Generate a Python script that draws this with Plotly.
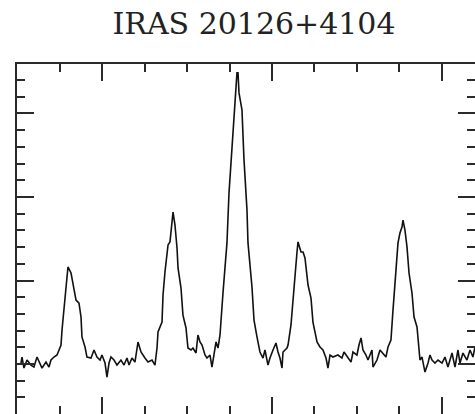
import plotly.graph_objects as go

# NH3 spectrum of IRAS 20126+4104 (velocity in km/s, brightness in K)
velocity = [
    -29.60, -29.48, -29.25, -28.89, -28.42, -28.07, -27.71, -27.36, -27.12, -26.65,
    -26.30, -26.06, -25.71, -25.35, -25.12, -24.88, -24.76, -24.53, -24.29, -24.06,
    -23.70, -23.47, -23.11, -22.76, -22.52, -22.41, -22.05, -21.82, -21.34, -20.99,
    -20.64, -20.28, -20.05, -19.69, -19.46, -19.22, -18.99, -18.63, -18.28, -17.81,
    -17.45, -17.10, -16.86, -16.51, -16.16, -15.80, -15.45, -14.98, -14.62, -14.15,
    -13.80, -13.56, -13.44, -12.97, -12.85, -12.62, -12.26, -12.03, -11.79, -11.67,
    -11.44, -11.20, -11.08, -10.73, -10.50, -10.14, -9.91, -9.55, -9.32, -8.96,
    -8.73, -8.49, -8.25, -7.90, -7.67, -7.31, -7.08, -6.84, -6.60, -6.37,
    -6.13, -5.78, -5.54, -5.31, -5.07, -4.83, -4.60, -4.25, -4.13, -4.01,
    -3.89, -3.54, -3.30, -2.95, -2.83, -2.36, -2.12, -1.77, -1.42, -1.06,
    -0.83, -0.47, -0.24, 0.12, 0.47, 0.71, 0.94, 1.18, 1.30, 1.77,
    1.89, 2.24, 2.48, 2.71, 2.95, 3.07, 3.42, 3.66, 3.89, 4.25,
    4.60, 4.83, 5.31, 5.66, 6.01, 6.37, 6.60, 6.84, 7.19, 7.78,
    8.25, 8.49, 8.96, 9.32, 9.55, 10.02, 10.26, 10.50, 10.73, 11.08,
    11.32, 11.79, 11.91, 12.38, 12.74, 13.09, 13.44, 13.68, 14.03, 14.27,
    14.50, 14.74, 14.86, 15.09, 15.33, 15.45, 15.68, 15.92, 16.16, 16.51,
    16.75, 17.10, 17.22, 17.45, 17.69, 18.04, 18.40, 18.63, 18.87, 19.22,
    19.58, 20.05, 20.40, 20.75, 20.99, 21.23, 21.58, 21.93, 22.17, 22.52,
    22.99, 23.35, 23.70, 23.94,
]
brightness = [
    0.006, 0.042, -0.024, 0.024, -0.006, -0.018, 0.042, 0.006, -0.024, 0.012,
    -0.018, 0.024, 0.042, 0.054, 0.084, 0.114, 0.204, 0.323, 0.485, 0.581,
    0.545, 0.485, 0.383, 0.365, 0.281, 0.162, 0.102, 0.042, 0.036, 0.084,
    0.042, 0.024, 0.054, 0.006, -0.078, 0.006, 0.042, 0.024, -0.006, 0.024,
    -0.006, 0.036, -0.006, 0.036, 0.012, 0.132, 0.072, 0.036, 0.012, 0.024,
    -0.006, 0.096, 0.192, 0.251, 0.413, 0.551, 0.713, 0.731, 0.832, 0.910,
    0.832, 0.695, 0.575, 0.455, 0.293, 0.216, 0.096, 0.084, 0.096, 0.066,
    0.174, 0.132, 0.114, 0.054, 0.036, 0.054, -0.018, 0.072, 0.132, 0.096,
    0.174, 0.425, 0.611, 0.725, 1.024, 1.222, 1.419, 1.641, 1.743, 1.743,
    1.623, 1.521, 1.222, 0.922, 0.725, 0.461, 0.263, 0.162, 0.072, 0.036,
    0.084, -0.006, 0.036, 0.084, 0.126, 0.072, 0.036, -0.024, 0.072, 0.096,
    0.114, 0.234, 0.395, 0.533, 0.671, 0.731, 0.671, 0.671, 0.635, 0.473,
    0.395, 0.251, 0.132, 0.102, 0.084, 0.036, -0.024, 0.054, 0.042, 0.054,
    0.036, 0.072, 0.042, 0.012, 0.072, 0.054, 0.114, 0.156, 0.084, 0.054,
    0.024, 0.084, -0.018, 0.024, 0.084, 0.066, 0.042, 0.102, 0.144, 0.323,
    0.485, 0.641, 0.725, 0.784, 0.820, 0.862, 0.802, 0.701, 0.545, 0.425,
    0.281, 0.222, 0.144, 0.024, 0.042, -0.048, 0.006, 0.054, 0.024, 0.006,
    0.024, 0.006, 0.042, -0.018, 0.024, 0.066, -0.018, 0.084, 0.006, 0.066,
    0.024, 0.084, 0.042, 0.102,
]
title_text = "IRAS 20126+4104"
x_range = [-30.07, 23.94]
y_range = [-0.299, 1.796]

frame_color = "#2a2a2a"

fig = go.Figure()
fig.add_trace(go.Scatter(
    x=velocity, y=brightness, mode="lines",
    line=dict(color="#111111", width=1.6),
    showlegend=False, hoverinfo="skip",
))
# invisible trace to carry the right-hand tick axis
fig.add_trace(go.Scatter(
    x=[velocity[0]], y=[brightness[0]], yaxis="y2", mode="lines",
    line=dict(width=0), showlegend=False, hoverinfo="skip",
))

common_x = dict(
    range=x_range, showgrid=False, zeroline=False, showticklabels=False,
    ticks="inside", tick0=0, dtick=20, ticklen=17, tickwidth=2, tickcolor=frame_color,
    minor=dict(ticks="inside", tick0=0, dtick=5, ticklen=8, tickwidth=2, tickcolor=frame_color),
    showline=True, linewidth=2, linecolor=frame_color, mirror="ticks",
)
common_y = dict(
    range=y_range, showgrid=False, zeroline=False, showticklabels=False,
    ticks="inside", tick0=0, dtick=0.5, ticklen=17, tickwidth=2, tickcolor=frame_color,
    minor=dict(ticks="inside", tick0=0, dtick=0.1, ticklen=8, tickwidth=2, tickcolor=frame_color),
)

fig.update_layout(
    width=475, height=414,
    margin=dict(l=17, r=0, t=64, b=0),
    paper_bgcolor="white", plot_bgcolor="white",
    title=dict(
        text=title_text, x=254 / 475, xanchor="center", xref="container",
        y=1 - 23 / 414, yanchor="middle", yref="container",
        font=dict(family="DejaVu Serif", size=30, color="#222222"),
    ),
    xaxis=common_x,
    yaxis=dict(**common_y, showline=True, linewidth=2, linecolor=frame_color, side="left"),
    yaxis2=dict(**common_y, overlaying="y", side="right", showline=False),
)

fig.write_html("out.html")
